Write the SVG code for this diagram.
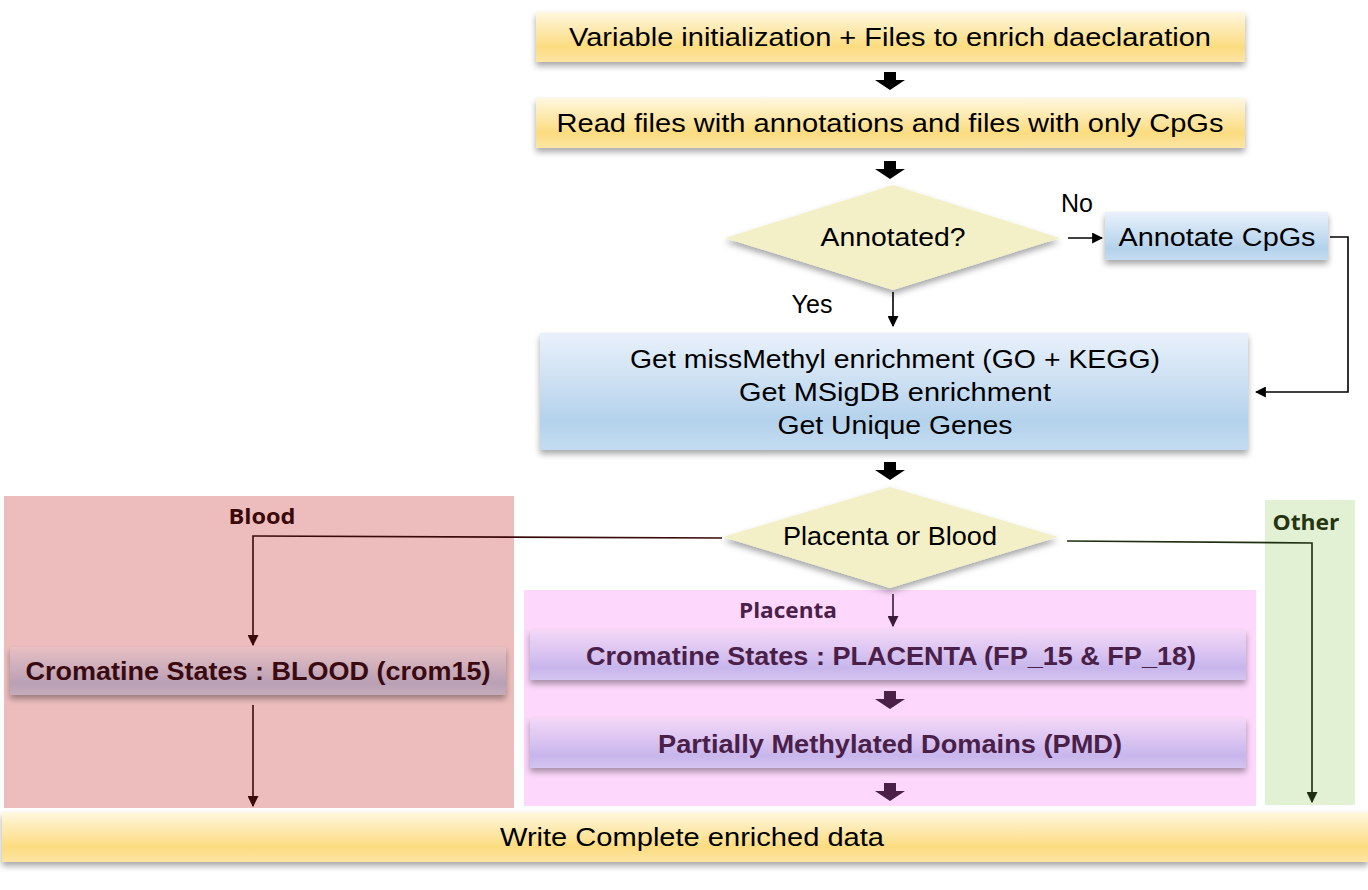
<svg xmlns="http://www.w3.org/2000/svg" width="1368" height="890" viewBox="0 0 1368 890">
<defs>
<linearGradient id="gY" x1="0" y1="0" x2="0" y2="1"><stop offset="0" stop-color="#fff8e0"/><stop offset="0.7" stop-color="#fcdc80"/><stop offset="1" stop-color="#fde6a4"/></linearGradient>
<linearGradient id="gB" x1="0" y1="0" x2="0" y2="1"><stop offset="0" stop-color="#e9f1fb"/><stop offset="0.75" stop-color="#b4d2ec"/><stop offset="1" stop-color="#c4dcf1"/></linearGradient>
<linearGradient id="gR" x1="0" y1="0" x2="0" y2="1"><stop offset="0" stop-color="#e8c0c4"/><stop offset="0.75" stop-color="#b9a0b4"/><stop offset="1" stop-color="#c6abbb"/></linearGradient>
<linearGradient id="gP" x1="0" y1="0" x2="0" y2="1"><stop offset="0" stop-color="#f4d8f8"/><stop offset="0.75" stop-color="#c8b6ec"/><stop offset="1" stop-color="#d4c4f0"/></linearGradient>
<filter id="sh" x="-5%" y="-20%" width="110%" height="150%"><feDropShadow dx="0" dy="4" stdDeviation="3" flood-color="#000" flood-opacity="0.35"/></filter>
<marker id="ah" viewBox="0 0 10 10" refX="9" refY="5" markerWidth="11" markerHeight="11" markerUnits="userSpaceOnUse" orient="auto"><path d="M0,0 L10,5 L0,10 z" fill="#000"/></marker>
<marker id="ahR" viewBox="0 0 10 10" refX="9" refY="5" markerWidth="11" markerHeight="11" markerUnits="userSpaceOnUse" orient="auto"><path d="M0,0 L10,5 L0,10 z" fill="#3a0a0a"/></marker>
<marker id="ahP" viewBox="0 0 10 10" refX="9" refY="5" markerWidth="11" markerHeight="11" markerUnits="userSpaceOnUse" orient="auto"><path d="M0,0 L10,5 L0,10 z" fill="#3a1a3a"/></marker>
<marker id="ahG" viewBox="0 0 10 10" refX="9" refY="5" markerWidth="11" markerHeight="11" markerUnits="userSpaceOnUse" orient="auto"><path d="M0,0 L10,5 L0,10 z" fill="#1e2e10"/></marker>
<path id="blk" d="M-6,0 H6 V8 H15 L0,18 L-15,8 H-6 z"/>
</defs>
<style>
text{font-family:"Liberation Sans",Arial,sans-serif;text-anchor:middle;dominant-baseline:central}
.t{font-size:25px;fill:#000}
.bb{font-size:26px;font-weight:bold}
.lbl{font-family:"Open Sans","Noto Sans",sans-serif;font-weight:bold;font-size:22px}
</style>
<rect width="1368" height="890" fill="#fff"/>
<g id="panels">
<rect x="4" y="496" width="510" height="312" fill="#edbdbd"/>
<rect x="524" y="590" width="732" height="216" fill="#fdd8fc"/>
<rect x="1265" y="500" width="90" height="305" fill="#e2f0d4"/>
<text class="lbl" x="262" y="515" fill="#3a0808" textLength="67" lengthAdjust="spacingAndGlyphs">Blood</text>
<text class="lbl" x="788" y="609" fill="#4a2048" font-weight="600" textLength="98" lengthAdjust="spacingAndGlyphs">Placenta</text>
<text class="lbl" x="1306" y="521" fill="#253510" textLength="67" lengthAdjust="spacingAndGlyphs">Other</text>
</g>
<g id="connectors" fill="none" stroke-width="1.6">
<use href="#blk" x="890" y="72" fill="#000"/>
<use href="#blk" x="890" y="161" fill="#000"/>
<use href="#blk" x="890" y="462" fill="#000"/>
<use href="#blk" x="890" y="691" fill="#4a2048"/>
<use href="#blk" x="890" y="783" fill="#4a2048"/>
<line x1="1068" y1="238" x2="1102" y2="238" stroke="#000" marker-end="url(#ah)"/>
<polyline points="1330,237 1348,237 1348,392 1256,392" stroke="#000" marker-end="url(#ah)"/>
<line x1="893" y1="292" x2="893" y2="326" stroke="#000" marker-end="url(#ah)"/>
<polyline points="722,538 253,536 253,645" stroke="#3a0a0a" marker-end="url(#ahR)"/>
<line x1="253" y1="705" x2="253" y2="806" stroke="#3a0a0a" marker-end="url(#ahR)"/>
<line x1="893" y1="594" x2="893" y2="626" stroke="#3a1a3a" marker-end="url(#ahP)"/>
<polyline points="1067,541 1312,543 1312,802" stroke="#1e2e10" marker-end="url(#ahG)"/>
</g>
<g id="n1"><rect x="536" y="12" width="709" height="50" fill="url(#gY)" filter="url(#sh)"/><text class="t" x="890" y="37" textLength="642" lengthAdjust="spacingAndGlyphs">Variable initialization + Files to enrich daeclaration</text></g>
<g id="n2"><rect x="536" y="98" width="709" height="50" fill="url(#gY)" filter="url(#sh)"/><text class="t" x="890" y="123" textLength="667" lengthAdjust="spacingAndGlyphs">Read files with annotations and files with only CpGs</text></g>
<g id="n3"><polygon points="725,238 893,185 1060,238 893,290" fill="#f3f0c8" filter="url(#sh)"/><text class="t" x="893" y="237" textLength="145" lengthAdjust="spacingAndGlyphs">Annotated?</text></g>
<text class="t" x="1077" y="203">No</text>
<text class="t" x="812" y="304">Yes</text>
<g id="n4"><rect x="1105" y="212" width="223" height="48" fill="url(#gB)" filter="url(#sh)"/><text class="t" x="1217" y="237" textLength="197" lengthAdjust="spacingAndGlyphs">Annotate CpGs</text></g>
<g id="n5"><rect x="540" y="333" width="708" height="117" fill="url(#gB)" filter="url(#sh)"/>
<text class="t" x="895" y="359" textLength="530" lengthAdjust="spacingAndGlyphs">Get missMethyl enrichment (GO + KEGG)</text>
<text class="t" x="895" y="392" textLength="312" lengthAdjust="spacingAndGlyphs">Get MSigDB enrichment</text>
<text class="t" x="895" y="425" textLength="235" lengthAdjust="spacingAndGlyphs">Get Unique Genes</text></g>
<g id="n6"><polygon points="723,537 890,487 1058,537 890,588" fill="#f3f0c8" filter="url(#sh)"/><text class="t" x="890" y="536" textLength="214" lengthAdjust="spacingAndGlyphs">Placenta or Blood</text></g>
<g id="n7"><rect x="10" y="647" width="496" height="48" fill="url(#gR)" filter="url(#sh)"/><text class="bb" x="258" y="671" fill="#3a0a10" textLength="465" lengthAdjust="spacingAndGlyphs">Cromatine States : BLOOD (crom15)</text></g>
<g id="n8"><rect x="530" y="630" width="716" height="50" fill="url(#gP)" filter="url(#sh)"/><text class="bb" x="891" y="656" fill="#4a2048" textLength="610" lengthAdjust="spacingAndGlyphs">Cromatine States : PLACENTA (FP_15 &amp; FP_18)</text></g>
<g id="n9"><rect x="530" y="718" width="716" height="50" fill="url(#gP)" filter="url(#sh)"/><text class="bb" x="890" y="744" fill="#4a2048" textLength="464" lengthAdjust="spacingAndGlyphs">Partially Methylated Domains (PMD)</text></g>
<g id="n10"><rect x="2" y="812" width="1366" height="50" fill="url(#gY)" filter="url(#sh)"/><text class="t" x="692" y="837" textLength="384" lengthAdjust="spacingAndGlyphs">Write Complete enriched data</text></g>
</svg>
